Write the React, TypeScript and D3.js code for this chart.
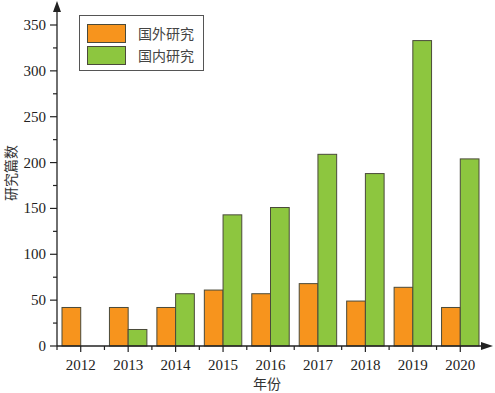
import React from "react";
import * as d3 from "d3";

const years = ["2012", "2013", "2014", "2015", "2016", "2017", "2018", "2019", "2020"];
const foreignStudies = [42, 42, 42, 61, 57, 68, 49, 64, 42];
const domesticStudies = [0, 18, 57, 143, 151, 209, 188, 333, 204];
const seriesNames = ["国外研究", "国内研究"];
const seriesColors = ["#F7941D", "#8DC63F"];
const yTicks = [0, 50, 100, 150, 200, 250, 300, 350];
const yMinorTicks = [25, 75, 125, 175, 225, 275, 325];

export default function App() {
  const width = 495;
  const height = 393;
  const axisX = 57;
  const axisY = 346;
  const axisEnd = 484;

  const x = d3.scaleBand<string>().domain(years).range([axisX, axisEnd]).padding(0);
  const inner = d3
    .scaleBand<number>()
    .domain([0, 1])
    .range([5, x.bandwidth() - 5])
    .padding(0);
  const y = d3.scaleLinear().domain([0, 350]).range([axisY, 25]);

  const series = [foreignStudies, domesticStudies];
  const stroke = "#4a4a3a";
  const serif = "'Liberation Serif', 'Times New Roman', serif";
  const cjk = "'Noto Sans CJK SC', sans-serif";

  return (
    <svg
      width={width}
      height={height}
      style={{ position: "absolute", left: 0, top: 0, background: "#fff" }}
    >
      {/* bars */}
      {years.map((yr, i) => (
        <g key={yr} transform={`translate(${x(yr)},0)`}>
          {series.map((s, k) =>
            s[i] > 0 ? (
              <rect
                key={k}
                x={inner(k)}
                y={y(s[i])}
                width={inner.bandwidth()}
                height={axisY - y(s[i])}
                fill={seriesColors[k]}
                stroke={stroke}
                strokeWidth={1}
              />
            ) : null
          )}
        </g>
      ))}

      {/* y axis */}
      <line x1={axisX} x2={axisX} y1={axisY} y2={8} stroke="#222" strokeWidth={1.3} />
      <path d={`M${axisX},1 L${axisX - 4},12 L${axisX + 4},12 Z`} fill="#222" />
      {yTicks.map((t) => (
        <g key={t} transform={`translate(0,${y(t)})`}>
          <line x1={axisX - 7} x2={axisX} stroke="#222" strokeWidth={1.2} />
          <text
            x={axisX - 11}
            y={5}
            textAnchor="end"
            fontFamily={serif}
            fontSize={15}
            fill="#222"
          >
            {t}
          </text>
        </g>
      ))}
      {yMinorTicks.map((t) => (
        <line key={t} x1={axisX - 4} x2={axisX} y1={y(t)} y2={y(t)} stroke="#222" strokeWidth={1.2} />
      ))}

      {/* x axis */}
      <line x1={axisX} x2={486} y1={axisY} y2={axisY} stroke="#222" strokeWidth={1.3} />
      <path d={`M493,${axisY} L481,${axisY - 4} L481,${axisY + 4} Z`} fill="#222" />
      {years.map((yr) => {
        const cx = (x(yr) ?? 0) + x.bandwidth() / 2;
        return (
          <g key={yr}>
            <line x1={cx} x2={cx} y1={axisY} y2={axisY + 6} stroke="#222" strokeWidth={1.2} />
            <line
              x1={x(yr)}
              x2={x(yr)}
              y1={axisY}
              y2={axisY + 4}
              stroke="#222"
              strokeWidth={1.2}
            />
            <text
              x={cx}
              y={370}
              textAnchor="middle"
              fontFamily={serif}
              fontSize={15}
              fill="#222"
            >
              {yr}
            </text>
          </g>
        );
      })}

      {/* axis titles */}
      <text x={267} y={389} textAnchor="middle" fontFamily={cjk} fontSize={14} fill="#333">
        年份
      </text>
      <text
        transform="translate(16,173) rotate(-90)"
        textAnchor="middle"
        fontFamily={cjk}
        fontSize={14}
        fill="#333"
      >
        研究篇数
      </text>

      {/* legend */}
      <rect x={79.5} y={15.5} width={124} height={55} fill="#fff" stroke="#555" strokeWidth={1} />
      {seriesNames.map((name, k) => (
        <g key={name} transform={`translate(0,${k * 22})`}>
          <rect
            x={87.5}
            y={24.5}
            width={38}
            height={18}
            fill={seriesColors[k]}
            stroke={stroke}
            strokeWidth={1}
          />
          <text x={138} y={39} fontFamily={cjk} fontSize={14} fill="#444">
            {name}
          </text>
        </g>
      ))}
    </svg>
  );
}
